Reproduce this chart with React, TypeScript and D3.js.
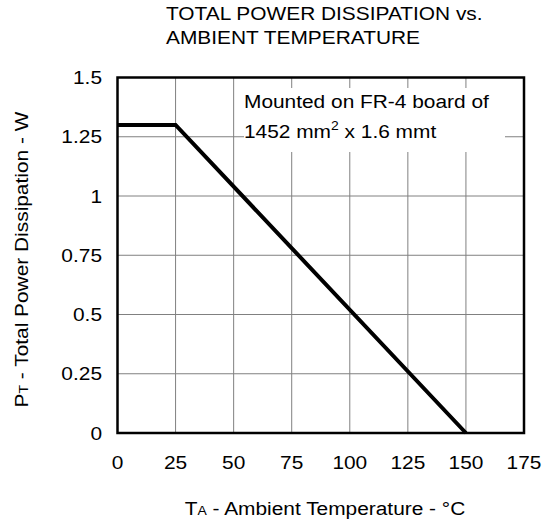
import React from "react";
import * as d3 from "d3";

const temps = [0, 25, 150];
const power = [1.3, 1.3, 0];
const xTicks = [0, 25, 50, 75, 100, 125, 150, 175];
const yTicks = [0, 0.25, 0.5, 0.75, 1, 1.25, 1.5];
const yTickLabels = ["0", "0.25", "0.5", "0.75", "1", "1.25", "1.5"];
const titleLines = ["TOTAL POWER DISSIPATION vs.", "AMBIENT TEMPERATURE"];

const W = 549;
const H = 522;
const left = 117.5;
const right = 524;
const top = 77.5;
const bottom = 433;
const font = "'Liberation Sans', Arial, sans-serif";
const SX = 1.16;
const FS = 18;

function T({ x, y, anchor = "start", children }: { x: number; y: number; anchor?: string; children: React.ReactNode }) {
  return (
    <text transform={`translate(${x},${y}) scale(${SX},1)`} fontSize={FS} textAnchor={anchor} fill="#000">
      {children}
    </text>
  );
}

export default function App() {
  const x = d3.scaleLinear().domain([0, 175]).range([left, right]);
  const y = d3.scaleLinear().domain([0, 1.5]).range([bottom, top]);
  const pts = temps.map((t, i) => [t, power[i]] as [number, number]);
  const line = d3.line<[number, number]>().x((d) => x(d[0])).y((d) => y(d[1]));

  return (
    <svg
      width={W}
      height={H}
      style={{ position: "absolute", left: 0, top: 0, background: "#fff" }}
      fontFamily={font}
    >
      <rect x={0} y={0} width={W} height={H} fill="#fff" />
      {xTicks.slice(1, -1).map((t) => (
        <line key={"gx" + t} x1={x(t)} x2={x(t)} y1={top} y2={bottom} stroke="#808080" strokeWidth={1} />
      ))}
      {yTicks.slice(1, -1).map((t) => (
        <line key={"gy" + t} x1={left} x2={right} y1={y(t)} y2={y(t)} stroke="#808080" strokeWidth={1} />
      ))}
      <rect x={244} y={88} width={261} height={64} fill="#fff" />
      <path d={line(pts) || ""} fill="none" stroke="#000" strokeWidth={4} strokeLinejoin="miter" />
      <rect x={left} y={top} width={right - left} height={bottom - top} fill="none" stroke="#000" strokeWidth={2.5} />
      {xTicks.map((t) => (
        <T key={"xt" + t} x={x(t)} y={469} anchor="middle">
          {t}
        </T>
      ))}
      {yTicks.map((t, i) => (
        <T key={"yt" + t} x={102} y={y(t) + 6.5} anchor="end">
          {yTickLabels[i]}
        </T>
      ))}
      {titleLines.map((s, i) => (
        <T key={"ti" + i} x={166} y={20 + i * 23.5}>
          {s}
        </T>
      ))}
      <T x={244} y={107.5}>Mounted on FR-4 board of</T>
      <T x={244} y={137.5}>
        1452 mm<tspan fontSize={12} dy={-8}>2</tspan>
        <tspan dy={8}> x 1.6 mmt</tspan>
      </T>
      <T x={325} y={515} anchor="middle">
        T<tspan fontSize={12}>A</tspan> - Ambient Temperature - °C
      </T>
      <text
        transform={`translate(28, 259.5) rotate(-90) scale(${SX},1)`}
        fontSize={FS}
        textAnchor="middle"
        fill="#000"
      >
        P<tspan fontSize={12}>T</tspan> - Total Power Dissipation - W
      </text>
    </svg>
  );
}
